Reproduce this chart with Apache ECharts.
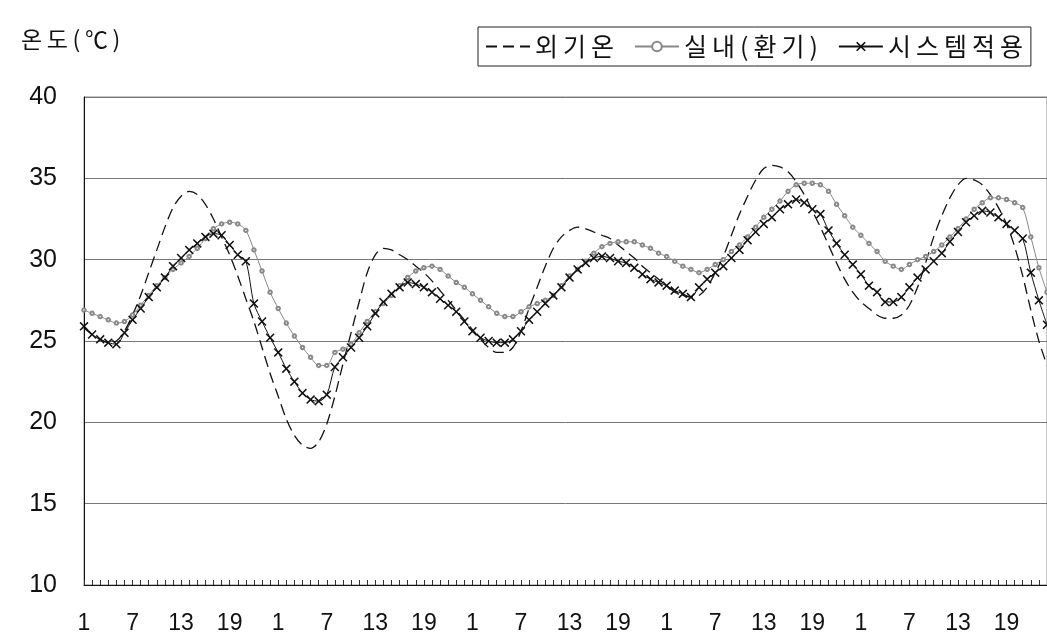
<!DOCTYPE html>
<html>
<head>
<meta charset="utf-8">
<script src="https://cdn.jsdelivr.net/npm/echarts@6/dist/echarts.min.js"></script>
<style>
  html, body { margin: 0; padding: 0; background: #fff; }
  #tempChart { width: 1047px; height: 639px; }
</style>
</head>
<body>
<div id="tempChart"></div>
<script>
  // 시간 (하루 24시간, 5일)
  const hours = [1, 2, 3, 4, 5, 6, 7, 8, 9, 10, 11, 12, 13, 14, 15, 16, 17, 18, 19, 20, 21, 22, 23, 24]
  const days = 5
  const yTicks = [10, 15, 20, 25, 30, 35, 40]

  const seriesNames = ['외기온', '실내(환기)', '시스템적용']

  // 외기온
  const outdoor = [
    25.8, 25.4, 25.1, 24.9, 25.0, 25.6, 26.6, 27.8, 29.2, 30.6, 32.0, 33.2, 33.9, 34.2, 34.0, 33.4, 32.5, 31.4, 30.3, 29.0, 27.6, 26.2, 24.6, 23.0,
    21.6, 20.2, 19.2, 18.6, 18.4, 18.8, 19.9, 21.6, 23.6, 25.5, 27.4, 29.2, 30.3, 30.7, 30.6, 30.3, 30.0, 29.6, 29.2, 28.7, 28.1, 27.5, 26.9, 26.3,
    25.7, 25.1, 24.6, 24.3, 24.3, 24.6, 25.6, 27.0, 28.3, 29.6, 30.7, 31.4, 31.8, 32.0, 31.9, 31.7, 31.5, 31.3, 30.9, 30.5, 30.1, 29.6, 29.2, 28.8,
    28.4, 28.0, 27.8, 27.7, 27.8, 28.3, 29.2, 30.2, 31.5, 32.8, 33.9, 34.9, 35.6, 35.8, 35.7, 35.4, 34.8, 34.0, 33.0, 32.0, 30.9, 29.8, 28.8, 28.0,
    27.4, 27.0, 26.6, 26.4, 26.4, 26.6, 27.2, 28.3, 29.8, 31.4, 32.7, 33.8, 34.6, 35.0, 34.9, 34.6, 34.0, 33.2, 32.2, 30.8, 29.0, 26.9, 25.0, 23.5
  ]

  // 실내(환기)
  const indoorVent = [
    26.9, 26.7, 26.5, 26.3, 26.1, 26.2, 26.6, 27.2, 27.8, 28.4, 28.9, 29.4, 29.8, 30.2, 30.7, 31.3, 31.9, 32.2, 32.3, 32.2, 31.8, 30.6, 29.3, 28.0,
    27.0, 26.1, 25.3, 24.6, 24.0, 23.5, 23.5, 24.3, 24.5, 24.8, 25.5, 26.2, 26.8, 27.3, 27.8, 28.4, 28.9, 29.3, 29.5, 29.6, 29.4, 29.0, 28.6, 28.3,
    27.9, 27.5, 27.1, 26.7, 26.5, 26.5, 26.8, 27.1, 27.3, 27.5, 27.8, 28.4, 29.0, 29.4, 29.9, 30.4, 30.8, 31.0, 31.1, 31.1, 31.1, 30.9, 30.7, 30.4,
    30.2, 29.9, 29.6, 29.4, 29.2, 29.4, 29.7, 30.0, 30.5, 30.9, 31.4, 32.0, 32.6, 33.1, 33.6, 34.2, 34.6, 34.7, 34.7, 34.6, 34.2, 33.4, 32.7, 32.0,
    31.5, 31.0, 30.5, 29.9, 29.6, 29.4, 29.7, 30.0, 30.2, 30.5, 30.9, 31.4, 31.9, 32.5, 33.1, 33.5, 33.8, 33.8, 33.7, 33.5, 33.2, 31.4, 29.5, 28.0
  ]

  // 시스템적용
  const systemApplied = [
    25.9, 25.4, 25.1, 24.9, 24.8, 25.5, 26.3, 27.0, 27.7, 28.3, 28.9, 29.6, 30.1, 30.6, 31.0, 31.4, 31.6, 31.5, 30.9, 30.3, 29.9, 27.3, 26.2, 25.2,
    24.3, 23.3, 22.5, 21.8, 21.4, 21.3, 21.7, 23.4, 24.0, 24.6, 25.2, 25.9, 26.7, 27.4, 27.9, 28.3, 28.6, 28.5, 28.3, 28.0, 27.6, 27.2, 26.8, 26.2,
    25.6, 25.2, 25.0, 24.9, 24.9, 25.1, 25.6, 26.3, 26.8, 27.3, 27.8, 28.3, 28.9, 29.4, 29.8, 30.1, 30.2, 30.1, 29.9, 29.8, 29.5, 29.1, 28.8, 28.6,
    28.4, 28.1, 27.9, 27.7, 28.3, 28.8, 29.2, 29.6, 30.1, 30.6, 31.2, 31.7, 32.2, 32.6, 33.1, 33.4, 33.7, 33.5, 33.1, 32.8, 31.8, 31.0, 30.3, 29.7,
    29.1, 28.4, 28.0, 27.4, 27.4, 27.7, 28.3, 28.9, 29.4, 29.9, 30.4, 31.1, 31.7, 32.3, 32.7, 33.0, 32.9, 32.6, 32.2, 31.8, 31.3, 29.2, 27.5, 26.0
  ]

  // x축 카테고리: 1~24시를 5일 반복
  let categories = []
  for (let d = 0; d < days; d++) {
    categories = categories.concat(hours.map(h => String(h)))
  }

  const numFont = 'Liberation Sans, Arial, sans-serif'
  const krFont = 'Noto Sans CJK KR, sans-serif'
  const xMark = 'path://M0,1.2L1.2,0L5,3.8L8.8,0L10,1.2L6.2,5L10,8.8L8.8,10L5,6.2L1.2,10L0,8.8L3.8,5Z'

  // 글자 사이를 조금 띄움 (원본 글꼴 간격)
  function spaced(s) {
    return s.split('').join('\u2009')
  }

  let myChart = echarts.init(document.getElementById('tempChart'), null, {renderer: 'canvas'})

  myChart.setOption({
    animation: false,
    backgroundColor: '#ffffff',
    title: {
      text: spaced('온도(℃)'),
      left: 16,
      top: 23,
      textStyle: {
        fontFamily: krFont,
        fontSize: 23,
        fontWeight: 'normal',
        color: '#111'
      }
    },
    legend: {
      data: [
        {name: seriesNames[0], itemStyle: {opacity: 0}},
        {name: seriesNames[1]},
        {name: seriesNames[2]}
      ],
      formatter: function (name) {
        return spaced(name)
      },
      left: 478,
      top: 27,
      padding: [7, 8, 7, 7],
      itemGap: 20,
      itemWidth: 44,
      itemHeight: 12,
      borderColor: '#222',
      borderWidth: 1,
      textStyle: {
        fontFamily: krFont,
        fontSize: 25,
        color: '#111'
      }
    },
    grid: {
      left: 84,
      top: 97,
      bottom: 54,
      right: -13,
      show: true,
      borderColor: '#888',
      borderWidth: 1
    },
    xAxis: {
      type: 'category',
      data: categories,
      boundaryGap: false,
      axisLine: {show: true, lineStyle: {color: '#111', width: 1}},
      axisTick: {show: true, inside: true, interval: 0, length: 5, lineStyle: {color: '#333'}},
      splitLine: {show: false},
      axisLabel: {
        interval: 5,
        margin: 27,
        fontFamily: numFont,
        fontSize: 23,
        color: '#111'
      }
    },
    yAxis: {
      type: 'value',
      min: yTicks[0],
      max: yTicks[yTicks.length - 1],
      interval: 5,
      axisLine: {show: true, lineStyle: {color: '#111', width: 1}},
      axisTick: {show: false},
      splitLine: {show: true, lineStyle: {color: '#777', width: 1}},
      axisLabel: {
        margin: 27,
        fontFamily: numFont,
        fontSize: 25,
        color: '#111'
      }
    },
    series: [
      {
        name: seriesNames[0],
        type: 'line',
        data: outdoor,
        smooth: 0.3,
        symbol: 'none',
        lineStyle: {color: '#111', width: 1.3, type: [11, 6]},
        itemStyle: {color: '#111'}
      },
      {
        name: seriesNames[1],
        type: 'line',
        data: indoorVent,
        smooth: 0.3,
        showAllSymbol: true,
        symbol: 'emptyCircle',
        symbolSize: 3.5,
        lineStyle: {color: '#888', width: 1},
        itemStyle: {color: '#888', borderColor: '#888', borderWidth: 1}
      },
      {
        name: seriesNames[2],
        type: 'line',
        data: systemApplied,
        smooth: 0.3,
        showAllSymbol: true,
        symbol: xMark,
        symbolSize: 9,
        lineStyle: {color: '#111', width: 1},
        itemStyle: {color: '#111'}
      }
    ]
  })
</script>
</body>
</html>
